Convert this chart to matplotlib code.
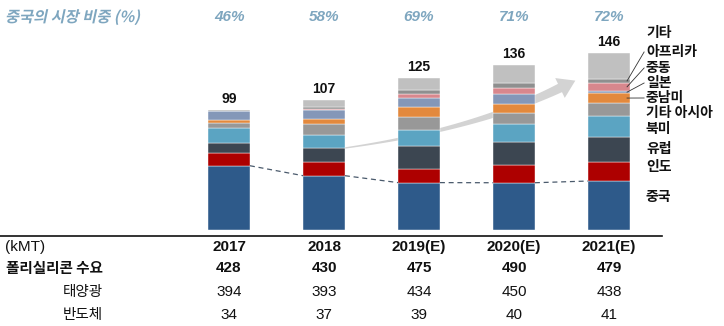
import matplotlib
matplotlib.use("Agg")
import matplotlib.pyplot as plt
from matplotlib import font_manager
from matplotlib.patches import Polygon, PathPatch
from matplotlib.textpath import TextPath
from matplotlib.font_manager import FontProperties
from matplotlib.transforms import Affine2D
import numpy as np

# ---- data (kMT) ----
years = ["2017", "2018", "2019(E)", "2020(E)", "2021(E)"]
regions = ["중국", "인도", "유럽", "북미", "기타 아시아", "중남미", "일본", "중동", "아프리카", "기타"]
china = [52.9, 44.7, 39.0, 38.9, 40.3]
india = [10.8, 11.4, 11.3, 14.7, 15.3]
europe = [8.1, 11.1, 18.8, 18.8, 20.8]
n_america = [12.2, 11.4, 12.9, 14.7, 17.2]
other_asia = [4.1, 8.9, 10.8, 9.4, 11.1]
latam = [2.7, 4.0, 8.1, 7.2, 7.8]
japan = [6.8, 7.3, 8.1, 8.0, 1.9]
mideast = [0.5, 1.0, 3.2, 5.4, 6.9]
africa = [0.4, 1.4, 2.7, 3.5, 2.8]
other = [0.5, 5.8, 10.2, 15.3, 21.7]
totals = [99, 107, 125, 136, 146]
china_share = [46, 58, 69, 71, 72]
poly_demand = [428, 430, 475, 490, 479]
solar = [394, 393, 434, 450, 438]
semi = [34, 37, 39, 40, 41]

series = [china, india, europe, n_america, other_asia, latam, japan, mideast, africa, other]
colors = ["#2e5a8a", "#ad0000", "#3c4651", "#5ba4c2", "#989898",
          "#e3893d", "#8497b8", "#d8878d", "#8f8f8f", "#c0c0c0"]

avail = {f.name for f in font_manager.fontManager.ttflist}
NUM = "Liberation Sans Narrow" if "Liberation Sans Narrow" in avail else "Liberation Sans"
KR = "Noto Sans CJK KR"
plt.rcParams["font.family"] = [KR, "DejaVu Sans"]

W, H = 724, 326
fig = plt.figure(figsize=(W / 100, H / 100), dpi=100)
ax = fig.add_axes([0, 0, 1, 1])

# map: bar 0 centred at x=229px, 95px per bar; baseline at y=230px
x0, dx, base, sy = 229, 95, 230, 1.215
ax.set_xlim(-x0 / dx, (W - x0) / dx)
ax.set_ylim(-(H - base) / sy, base / sy)
ax.axis("off")


def px(x, y):
    return (x - x0) / dx, (base - y) / sy


x = np.arange(len(years))
bw = 0.44

# growth arrow behind the bars (drawn in pixel space)
p0, p1, p2 = np.array([330, 150]), np.array([470, 132]), np.array([560, 88])
t = np.linspace(0, 1, 40)[:, None]
c = (1 - t) ** 2 * p0 + 2 * (1 - t) * t * p1 + t ** 2 * p2
d = np.gradient(c, axis=0)
d /= np.linalg.norm(d, axis=1)[:, None]
nrm = np.column_stack([d[:, 1], -d[:, 0]])
hw = (0.6 + 4.0 * t[:, 0] ** 1.3)[:, None]
left, right = c + nrm * hw, c - nrm * hw
dend = d[-1]
nend = nrm[-1]
tip = p2 + dend * 17
wing1 = p2 + nend * 11
wing2 = p2 - nend * 11
pts = np.vstack([left, wing1, tip, wing2, right[::-1]])
ax.add_patch(Polygon([px(a, b) for a, b in pts], closed=True,
                     facecolor="#d3d3d3", edgecolor="none", zorder=1))

# stacked bars
bottom = np.zeros(len(years))
for vals, col in zip(series, colors):
    ax.bar(x, vals, bw, bottom=bottom, color=col, edgecolor="#ffffff",
           linewidth=0.3, zorder=3)
    bottom += np.array(vals)

# dashed line linking China tops
for i in range(len(years) - 1):
    ax.plot([x[i] + bw / 2, x[i + 1] - bw / 2], [china[i], china[i + 1]],
            ls=(0, (4, 3)), color="#4a5a6c", lw=0.9, zorder=4)

# totals above bars
for xi, b, tot in zip(x, bottom, totals):
    ax.text(xi, b + 3, str(tot), ha="center", va="bottom", fontsize=10,
            family="Liberation Sans", weight="bold", color="#111111", zorder=5)

# China share row
share_col = "#7ea6bf"
for xi, s in zip(x, china_share):
    ax.text(xi, px(0, 17)[1], f"{s}%", ha="center", va="center", fontsize=11,
            family="Liberation Sans", style="italic", weight="bold", color=share_col)

# slanted Korean title
tp = TextPath((0, 0), "중국의 시장 비중 (%)", size=11,
              prop=FontProperties(family=KR, weight="bold"))
tr = Affine2D().skew_deg(12, 0).scale(1 / 72).translate(5 / 100, (H - 22) / 100) + fig.dpi_scale_trans
fig.patches.append(PathPatch(tp, transform=tr, facecolor=share_col, edgecolor="none"))

# region labels on the right, with leader lines for the thin top segments
label_y = [197, 167, 149, 129, 113, 98, 83, 68, 52, 33]
lx = px(646, 0)[0]
cum = np.cumsum(np.array(series)[:, -1])
mids = cum - np.array(series)[:, -1] / 2
for k, (name, ly) in enumerate(zip(regions, label_y)):
    yy = px(0, ly)[1]
    ax.text(lx, yy, name, ha="left", va="center", fontsize=10,
            weight="bold", color="#111111")
    if name in ("중남미", "일본", "중동", "아프리카"):
        ax.plot([lx - 0.02, x[-1] + bw / 2 - 0.03], [yy, mids[k]],
                color="#333333", lw=0.6, zorder=6)

# table
ax.plot([px(0, 0)[0], px(662, 0)[0]], [px(0, 236)[1]] * 2, color="#111111", lw=1.2)
rows = [(247, "(kMT)", years, dict(weight="bold"), dict(family=NUM), 5, 11),
        (268, "폴리실리콘 수요", poly_demand, dict(weight="bold"), dict(weight="bold"), 6, 10.5),
        (292, "태양광", solar, dict(), dict(), 63, 10.5),
        (315, "반도체", semi, dict(), dict(), 63, 10.5)]
for ry, lab, vals, vstyle, lstyle, lxp, fs in rows:
    yy = px(0, ry)[1]
    ax.text(px(lxp, 0)[0], yy, lab, ha="left", va="center", fontsize=fs,
            color="#111111", **lstyle)
    for xi, v in zip(x, vals):
        ax.text(xi, yy, str(v), ha="center", va="center", fontsize=11,
                family=NUM, color="#111111", **vstyle)

fig.savefig("out.png", dpi=100)
